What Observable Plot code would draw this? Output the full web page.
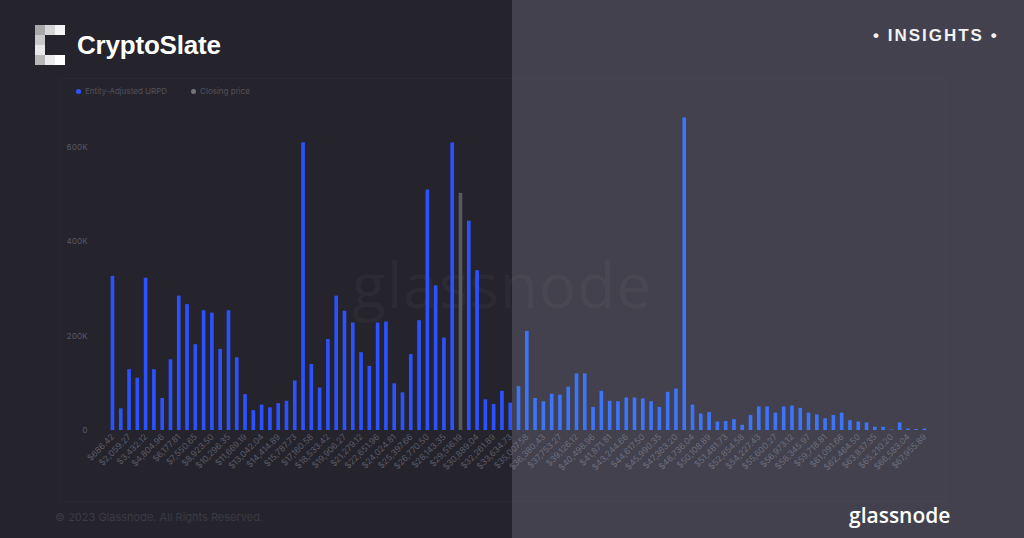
<!DOCTYPE html>
<html>
<head>
<meta charset="utf-8">
<script src="https://cdn.jsdelivr.net/npm/d3@7"></script>
<script src="https://cdn.jsdelivr.net/npm/@observablehq/plot@0.6"></script>
<style>
  html, body { margin: 0; padding: 0; background: #25242c; }
  #root { position: relative; width: 1024px; height: 538px; background: #25242c; overflow: hidden; font-family: Inter, "Liberation Sans", sans-serif; }
  .abs { position: absolute; }
  #panel { left: 60px; top: 78px; width: 886px; height: 424px; border: 1px solid rgba(255,255,255,0.018); box-sizing: border-box; }
  #watermark { left: 0; width: 1004px; top: 242px; text-align: center; font-family: "Open Sans", sans-serif; font-size: 62px; letter-spacing: 1px; color: rgba(255,255,255,0.035); }
  #chart { left: 0; top: 0; }
  #legend { left: 76px; top: 86px; font-size: 8px; color: #52515c; display: flex; gap: 0; }
  .item { display: flex; align-items: center; }
  .dot { width: 5px; height: 5px; border-radius: 50%; margin-right: 4px; }
  #copyright { left: 55px; top: 510px; font-size: 11px; color: #3b3a44; }
  #overlay { left: 512px; top: 0; width: 512px; height: 538px; background: rgba(200,200,230,0.18); }
  #title { left: 77px; top: 30px; font-family: "Liberation Sans", Arial, sans-serif; font-weight: bold; font-size: 26px; color: #ffffff; letter-spacing: -0.2px; }
  #insights { left: 873px; top: 26px; font-family: "Liberation Sans", Arial, sans-serif; font-weight: bold; font-size: 17px; letter-spacing: 2px; color: #f2f2f2; }
  #gn { left: 849px; top: 501px; font-family: "Open Sans", sans-serif; font-weight: 600; font-size: 21px; color: #ffffff; letter-spacing: 0px; }
</style>
</head>
<body>
<div id="root">
  <div id="panel" class="abs"></div>
  <div id="watermark" class="abs">glassnode</div>
  <div id="chart" class="abs"></div>
  <div id="legend" class="abs"></div>
  <div id="copyright" class="abs">© 2023 Glassnode. All Rights Reserved.</div>
  <div id="overlay" class="abs"></div>
  <svg id="logo" class="abs" style="left:35px;top:25px" width="30" height="40"></svg>
  <div id="title" class="abs">CryptoSlate</div>
  <div id="insights" class="abs">• INSIGHTS •</div>
  <div id="gn" class="abs">glassnode</div>
</div>
<script>
// Price bins (category labels along the x axis)
const binLabels = [
  "$686.42","$1,372.85","$2,059.27","$2,745.69","$3,432.12","$4,118.54","$4,804.96","$5,491.39","$6,177.81","$6,864.23",
  "$7,550.65","$8,237.08","$8,923.50","$9,609.92","$10,296.35","$10,982.77","$11,669.19","$12,355.62","$13,042.04","$13,728.46",
  "$14,414.89","$15,101.31","$15,787.73","$16,474.16","$17,160.58","$17,847.00","$18,533.42","$19,219.85","$19,906.27","$20,592.69",
  "$21,279.12","$21,965.54","$22,651.96","$23,338.39","$24,024.81","$24,711.23","$25,397.66","$26,084.08","$26,770.50","$27,456.93",
  "$28,143.35","$28,829.77","$29,516.19","$30,202.62","$30,889.04","$31,575.46","$32,261.89","$32,948.31","$33,634.73","$34,321.16",
  "$35,007.58","$35,694.00","$36,380.43","$37,066.85","$37,753.27","$38,439.70","$39,126.12","$39,812.54","$40,498.96","$41,185.39",
  "$41,871.81","$42,558.23","$43,244.66","$43,931.08","$44,617.50","$45,303.93","$45,990.35","$46,676.77","$47,363.20","$48,049.62",
  "$48,736.04","$49,422.47","$50,108.89","$50,795.31","$51,481.73","$52,168.16","$52,854.58","$53,541.00","$54,227.43","$54,913.85",
  "$55,600.27","$56,286.70","$56,973.12","$57,659.54","$58,345.97","$59,032.39","$59,718.81","$60,405.24","$61,091.66","$61,778.08",
  "$62,464.50","$63,150.93","$63,837.35","$64,523.77","$65,210.20","$65,896.62","$66,583.04","$67,269.47","$67,955.89"
];

// Entity-Adjusted URPD supply per bin (thousands of BTC)
const urpdValues = [
  327, 46, 129, 111, 323, 129, 68, 150, 285, 267,
  182, 254, 249, 172, 254, 154, 76, 42, 54, 48,
  57, 62, 105, 610, 140, 90, 193, 285, 253, 228,
  165, 136, 228, 230, 99, 80, 161, 233, 510, 307,
  196, 610, 503, 444, 339, 65, 55, 83, 58, 93,
  210, 68, 61, 77, 75, 92, 120, 120, 49, 83,
  62, 61, 69, 69, 67, 61, 49, 81, 88, 663,
  54, 35, 38, 18, 19, 23, 11, 32, 50, 50,
  37, 50, 52, 47, 37, 33, 25, 32, 37, 21,
  18, 16, 7, 7, 1, 16, 3, 2, 3
];

// Bin holding the closing price
const closingBin = "$29,516.19";

// Tick labels shown on the x axis (every other bin)
const xTickLabels = binLabels.filter((d, i) => i % 2 === 0);
// y axis ticks (thousands)
const yTicks = [0, 200, 400, 600];

// legend entries
const legendNames = ["Entity-Adjusted URPD", "Closing price"];
const legendColors = ["#2d55ff", "#74737a"];

const colorLeft = "#2c52ff";
const colorRight = "#1e62ff";
const colorClose = "#5a5962";

const rows = binLabels.map((bin, i) => ({bin, value: urpdValues[i], idx: i}));

const chart = Plot.plot({
  width: 1024,
  height: 538,
  marginLeft: 106,
  marginRight: 93,
  marginTop: 100,
  marginBottom: 108,
  style: {background: "transparent", color: "#5a5965", fontFamily: "Inter, sans-serif", fontSize: "8px"},
  x: {type: "band", domain: binLabels, padding: 0.56, round: false, label: null, axis: null},
  y: {domain: [0, 700], label: null, axis: null},
  marks: [
    Plot.axisY({ticks: yTicks, tickFormat: d => d === 0 ? "0" : d + "K", tickSize: 0, tickPadding: 19, label: null, fill: "#5a5965", fontSize: 8}),
    Plot.axisX({ticks: xTickLabels, tickRotate: -45, tickSize: 0, tickPadding: 5, label: null, fill: "#5c5b68", fontSize: 8.5}),
    Plot.barY(rows, {
      x: "bin",
      y: "value",
      fill: d => d.bin === closingBin ? colorClose : (d.idx >= 49 ? colorRight : colorLeft)
    })
  ]
});
document.getElementById("chart").appendChild(chart);

// legend
const legend = document.getElementById("legend");
legendNames.forEach((name, i) => {
  const it = document.createElement("div");
  it.className = "item";
  it.style.marginRight = i === 0 ? "24px" : "0";
  const dot = document.createElement("span");
  dot.className = "dot";
  dot.style.background = legendColors[i];
  const t = document.createElement("span");
  t.textContent = name;
  it.appendChild(dot); it.appendChild(t);
  legend.appendChild(it);
});

// CryptoSlate logo (decorative pixel squares)
const logoCells = [
  [0, 0, "#a8a8a8"], [10, 0, "#d6d6d6"], [20, 0, "#f4f4f4"],
  [0, 10, "#c9c9c9"], [0, 20, "#e8e8e8"], [0, 30, "#b8b8b8"],
  [10, 30, "#ececec"], [20, 30, "#ffffff"]
];
const logo = d3.select("#logo");
logo.selectAll("rect").data(logoCells).join("rect")
  .attr("x", d => d[0]).attr("y", d => d[1]).attr("width", 10).attr("height", 10).attr("fill", d => d[2]);
</script>
</body>
</html>
